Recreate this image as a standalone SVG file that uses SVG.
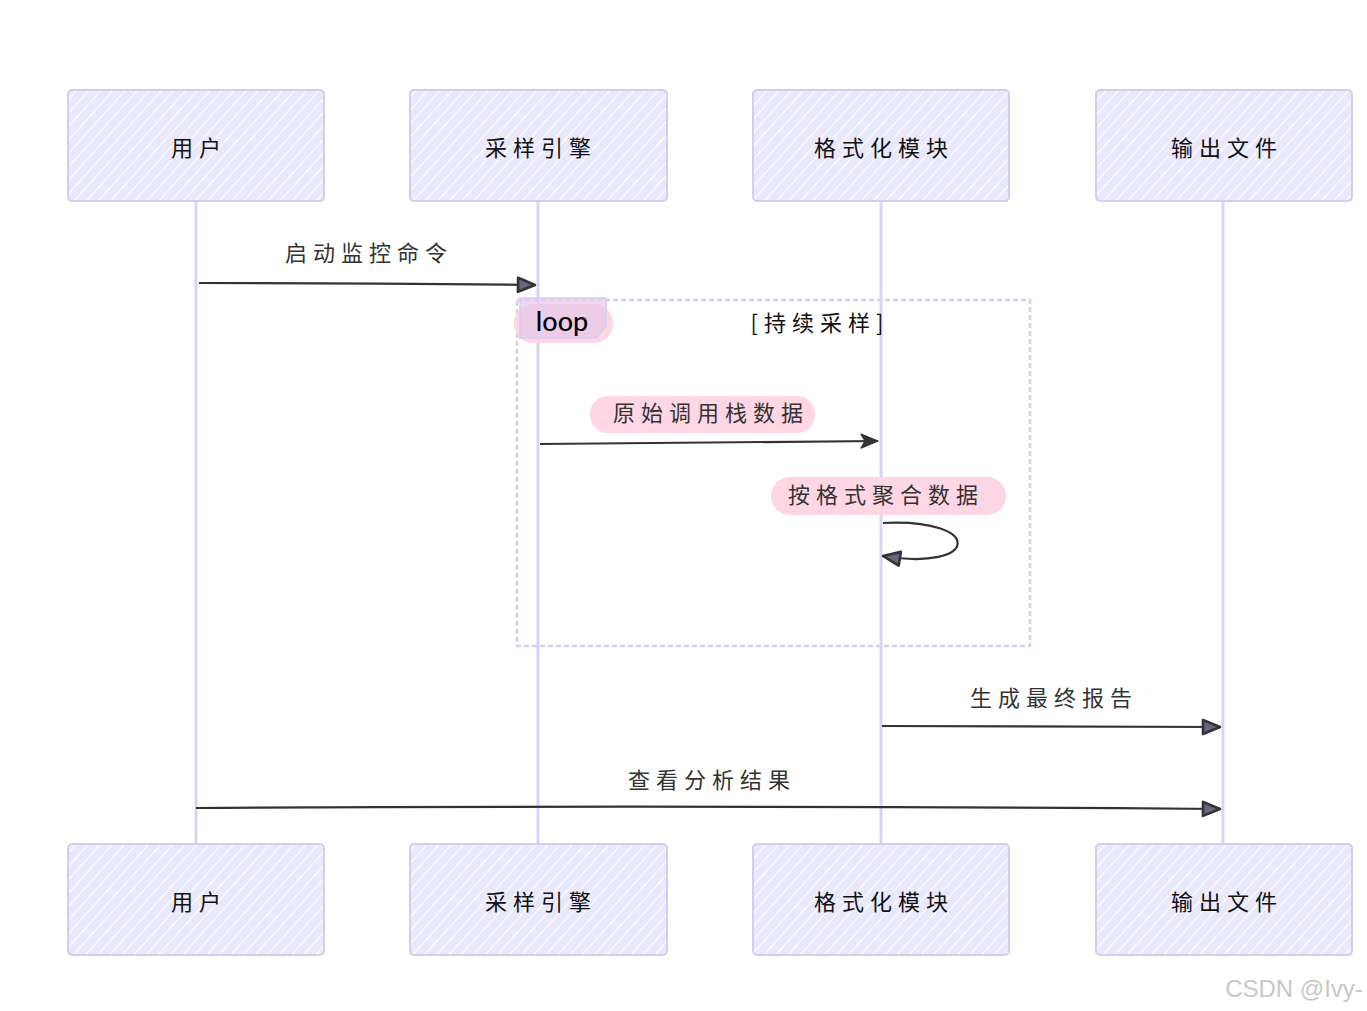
<svg xmlns="http://www.w3.org/2000/svg" width="1367" height="1011" viewBox="0 0 1367 1011">
<defs>
<pattern id="hatch" patternUnits="userSpaceOnUse" width="9" height="9" patternTransform="rotate(42)">
<rect width="9" height="9" fill="#e9e8fd"/>
<line x1="0" y1="0" x2="0" y2="9" stroke="#ffffff" stroke-width="2.2"/>
</pattern>
<marker id="arr" markerWidth="20" markerHeight="18" refX="18" refY="9" orient="auto" markerUnits="userSpaceOnUse">
<path d="M1,2 L18,9 L1,16 L5,9 Z" fill="#333" stroke="#333" stroke-width="1.2" stroke-linejoin="round"/>
</marker>
<marker id="arrOpen" markerWidth="22" markerHeight="20" refX="19" refY="10" orient="auto" markerUnits="userSpaceOnUse">
<path d="M2,3 L19,10 L2,17 Z" fill="#6a6680" stroke="#333" stroke-width="2.6" stroke-linejoin="round"/>
</marker>
</defs>
<style>
.actor{fill:url(#hatch);stroke:#d6ccf2;stroke-width:2}
.atext{font-family:"Noto Sans CJK SC","Liberation Serif",serif;font-size:22px;letter-spacing:6px;fill:#111;text-anchor:middle;dominant-baseline:central}
.life{stroke:#dcd3f4;stroke-width:3;fill:none}
.msg{stroke:#333;stroke-width:2.2;fill:none}
.mtext{font-family:"Noto Sans CJK SC","Liberation Serif",serif;font-size:22px;letter-spacing:6px;fill:#333;text-anchor:middle;dominant-baseline:central}
.pill{fill:#ffd5e3;opacity:0.95}
</style>
<rect width="1367" height="1011" fill="#ffffff"/>

<g id="lifelines">
<line class="life" x1="196" y1="201" x2="196" y2="844"/>
<line class="life" x1="538" y1="201" x2="538" y2="844"/>
<line class="life" x1="881" y1="201" x2="881" y2="844"/>
<line class="life" x1="1223" y1="201" x2="1223" y2="844"/>
</g>

<g id="loop">
<rect x="517" y="300" width="513" height="346" fill="none" stroke="#d8cff3" stroke-width="2.5" stroke-dasharray="5,3"/>
<rect x="514" y="304" width="99" height="39" rx="19" class="pill"/>
<path d="M520,298 L606,298 L606,326 L596,338 L520,338 Z" fill="#e6c7ea" fill-opacity="0.7" stroke="#d6ccf2" stroke-width="1.5"/>
<text x="562" y="320" font-family="Lato,'Open Sans',sans-serif" font-size="27" font-weight="500" fill="#000" text-anchor="middle" dominant-baseline="central">loop</text>
<text x="820" y="321" class="mtext" style="fill:#111">[持续采样]</text>
</g>

<g id="actor-user-top"><rect class="actor" x="68" y="90" width="256" height="111" rx="4"/><text class="atext" x="199" y="146">用户</text></g>
<g id="actor-engine-top"><rect class="actor" x="410" y="90" width="257" height="111" rx="4"/><text class="atext" x="541" y="146">采样引擎</text></g>
<g id="actor-format-top"><rect class="actor" x="753" y="90" width="256" height="111" rx="4"/><text class="atext" x="884" y="146">格式化模块</text></g>
<g id="actor-output-top"><rect class="actor" x="1096" y="90" width="256" height="111" rx="4"/><text class="atext" x="1227" y="146">输出文件</text></g>

<g id="actor-user-bottom"><rect class="actor" x="68" y="844" width="256" height="111" rx="4"/><text class="atext" x="199" y="900">用户</text></g>
<g id="actor-engine-bottom"><rect class="actor" x="410" y="844" width="257" height="111" rx="4"/><text class="atext" x="541" y="900">采样引擎</text></g>
<g id="actor-format-bottom"><rect class="actor" x="753" y="844" width="256" height="111" rx="4"/><text class="atext" x="884" y="900">格式化模块</text></g>
<g id="actor-output-bottom"><rect class="actor" x="1096" y="844" width="256" height="111" rx="4"/><text class="atext" x="1227" y="900">输出文件</text></g>

<g id="connectors">
<path class="msg" d="M199,283 Q360,283 535,285" marker-end="url(#arrOpen)"/>
<text class="mtext" x="369" y="251">启动监控命令</text>

<rect class="pill" x="590" y="396" width="225" height="37" rx="18"/>
<text class="mtext" x="711" y="411">原始调用栈数据</text>
<path class="msg" d="M540,444 Q700,442 878,441" stroke-width="3" marker-end="url(#arr)"/>

<rect class="pill" x="771" y="477" width="235" height="38" rx="19"/>
<text class="mtext" x="886" y="493">按格式聚合数据</text>
<path class="msg" d="M883,523 C985,518 980,572 883,556" marker-end="url(#arrOpen)"/>

<path class="msg" d="M882,726 Q1050,727 1220,727" stroke-width="2.8" marker-end="url(#arrOpen)"/>
<text class="mtext" x="1054" y="696">生成最终报告</text>

<path class="msg" d="M196,808 Q700,805 1220,809" marker-end="url(#arrOpen)"/>
<text class="mtext" x="712" y="778">查看分析结果</text>
</g>

<text x="1294" y="988" font-family="'Liberation Sans',Arial,sans-serif" font-size="24" fill="#c8c8c8" text-anchor="middle" dominant-baseline="central">CSDN @Ivy-</text>
</svg>
